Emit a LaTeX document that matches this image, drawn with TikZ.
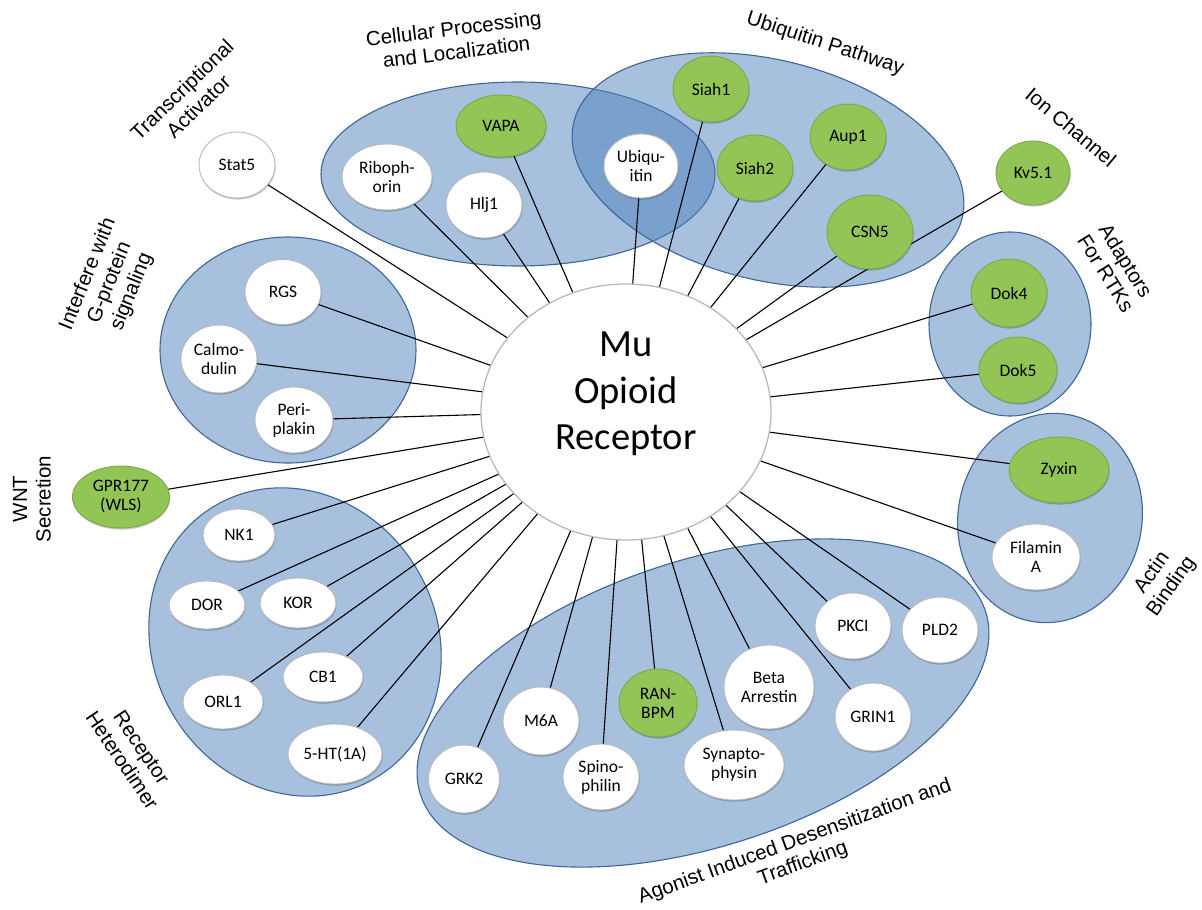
\documentclass[tikz,border=0pt]{standalone}
\usepackage{fontspec}
\setmainfont{Carlito}
\newfontfamily\labfont{Liberation Sans}
\usetikzlibrary{shapes.geometric,shadows}
\pgfdeclarelayer{cats}
\pgfdeclarelayer{links}
\pgfsetlayers{cats,links,main}
\definecolor{catfill}{RGB}{79,129,189}
\definecolor{catdraw}{RGB}{62,102,152}
\definecolor{pgreen}{RGB}{146,197,86}
\definecolor{pgreendraw}{RGB}{122,170,70}
\definecolor{pgray}{RGB}{185,185,185}
\tikzset{
  cat/.style={fill=catfill, fill opacity=0.5, draw=catdraw, draw opacity=1, line width=1.1},
  prot/.style={ellipse, draw=pgray, line width=0.9, fill=white, inner sep=0pt, outer sep=0pt,
    align=center, font=\fontsize{17.5}{19}\selectfont,
    drop shadow={shadow xshift=0.6pt, shadow yshift=-1.6pt, opacity=0.22, fill=black}},
  gprot/.style={prot, fill=pgreen, draw=pgreendraw},
  wh/.style 2 args={minimum width=#1, minimum height=#2},
  link/.style={line width=1.1, black},
  catlabel/.style={font=\labfont\fontsize{20.5}{23.5}\selectfont, align=center, inner sep=0pt},
}
\begin{document}
\begin{tikzpicture}[x=1pt,y=-1pt]
\useasboundingbox (0,0) rectangle (1202,910);

% category ellipses
\begin{pgfonlayer}{cats}
  \path[cat] (518,174) ellipse [x radius=197, y radius=92];
  \path[cat, rotate around={-14:(768,170)}] (768,170) ellipse [x radius=200, y radius=110];
  \path[cat] (288,350) ellipse [x radius=128, y radius=113];
  \path[cat, rotate around={30:(295,642)}] (295,642) ellipse [x radius=142, y radius=158];
  \path[cat, rotate around={18:(703,703)}] (703,703) ellipse [x radius=297, y radius=143];
  \path[cat] (1010,324) ellipse [x radius=81, y radius=92];
  \path[cat, rotate around={-10:(1050,518)}] (1050,518) ellipse [x radius=92, y radius=105];
\end{pgfonlayer}

% central receptor
\node[ellipse, draw=pgray, line width=1.3, fill=white, minimum width=290, minimum height=256,
  inner sep=0pt, outer sep=0pt,
  label={[yshift=18pt, align=center, font=\fontsize{38.5}{46.5}\selectfont]center:Mu\\Opioid\\Receptor}]
  (mu) at (626,412) {};

% proteins
\node[prot, wh={76}{66}] (stat5) at (237,165) {Stat5};
\node[prot, wh={90}{66}] (ribo) at (387,177) {Riboph-\\orin};
\node[prot, wh={76}{66}] (hlj1) at (484,205) {Hlj1};
\node[gprot, wh={90}{62}] (vapa) at (501,126) {VAPA};
\node[prot, wh={74}{64}] (ubiq) at (641,166) {Ubiqu-\\itin};
\node[gprot, wh={76}{66}] (siah1) at (711,89) {Siah1};
\node[gprot, wh={76}{66}] (siah2) at (755,168) {Siah2};
\node[gprot, wh={76}{66}] (aup1) at (848,137) {Aup1};
\node[gprot, wh={86}{74}] (csn5) at (870,232) {CSN5};
\node[gprot, wh={74}{64}] (kv51) at (1033,173) {Kv5.1};
\node[gprot, wh={76}{68}] (dok4) at (1009,293) {Dok4};
\node[gprot, wh={78}{66}] (dok5) at (1018,370) {Dok5};
\node[gprot, wh={100}{66}] (zyxin) at (1059,470) {Zyxin};
\node[prot, wh={88}{66}] (filamin) at (1036,557) {Filamin\\A};
\node[prot, wh={76}{66}] (pld2) at (940,630) {PLD2};
\node[prot, wh={76}{66}] (pkci) at (853,626) {PKCI};
\node[prot, wh={76}{68}] (grin1) at (873,717) {GRIN1};
\node[prot, wh={90}{84}] (beta) at (769,687) {Beta\\Arrestin};
\node[prot, wh={100}{70}] (synapto) at (734,765) {Synapto-\\physin};
\node[gprot, wh={78}{68}] (ranbpm) at (658,703) {RAN-\\BPM};
\node[prot, wh={76}{66}] (spino) at (601,777) {Spino-\\philin};
\node[prot, wh={76}{68}] (m6a) at (541,721) {M6A};
\node[prot, wh={71}{68}] (grk2) at (464,779) {GRK2};
\node[prot, wh={94}{60}] (ht1a) at (335,754) {5-HT(1A)};
\node[prot, wh={80}{54}] (orl1) at (223,702) {ORL1};
\node[prot, wh={80}{50}] (cb1) at (323,677) {CB1};
\node[prot, wh={76}{48}] (dor) at (207,605) {DOR};
\node[prot, wh={76}{50}] (kor) at (298,603) {KOR};
\node[prot, wh={72}{52}] (nk1) at (239,535) {NK1};
\node[gprot, wh={97}{62}] (gpr) at (121,497) {GPR177\\(WLS)};
\node[prot, wh={78}{66}] (peri) at (294,420) {Peri-\\plakin};
\node[prot, wh={76}{68}] (calmo) at (219,359) {Calmo-\\dulin};
\node[prot, wh={76}{65}] (rgs) at (283,292) {RGS};

% connectors
\begin{pgfonlayer}{links}
  \draw[link] (stat5) -- (mu.148);
  \draw[link] (ribo) -- (mu.136);
  \draw[link] (hlj1) -- (mu.125);
  \draw[link] (vapa) -- (mu.114);
  \draw[link] (ubiq) -- (mu.87);
  \draw[link] (siah1) -- (mu.75);
  \draw[link] (siah2) -- (mu.62);
  \draw[link] (aup1) -- (mu.51);
  \draw[link] (csn5) -- (mu.37);
  \draw[link] (kv51) -- (mu.31);
  \draw[link] (dok4) -- (mu.18);
  \draw[link] (dok5) -- (mu.6);
  \draw[link] (zyxin) -- (mu.-8);
  \draw[link] (filamin) -- (mu.-20);
  \draw[link] (pld2) -- (mu.-35);
  \draw[link] (pkci) -- (mu.-43);
  \draw[link] (grin1) -- (mu.-51);
  \draw[link] (beta) -- (mu.-62);
  \draw[link] (synapto) -- (mu.-73);
  \draw[link] (ranbpm) -- (mu.-83);
  \draw[link] (spino) -- (mu.-94);
  \draw[link] (m6a) -- (mu.-105);
  \draw[link] (grk2) -- (mu.-115);
  \draw[link] (ht1a) -- (mu.-131);
  \draw[link] (cb1) -- (mu.-139);
  \draw[link] (orl1) -- (mu.-144);
  \draw[link] (kor) -- (mu.-149);
  \draw[link] (dor) -- (mu.-154);
  \draw[link] (nk1) -- (mu.-162);
  \draw[link] (gpr) -- (mu.-170);
  \draw[link] (peri) -- (mu.-179);
  \draw[link] (calmo) -- (mu.172);
  \draw[link] (rgs) -- (mu.161);
\end{pgfonlayer}

% category labels
\node[catlabel, rotate=7] (lcell) at (455,40) {Cellular Processing\\and Localization};
\node[catlabel, rotate=-18] (lubiq) at (825,44) {Ubiquitin Pathway};
\node[catlabel, rotate=44] (ltrans) at (190,98) {Transcriptional\\Activator};
\node[catlabel, rotate=-40] (lion) at (1071,127) {Ion Channel};
\node[catlabel, rotate=-58] (ladapt) at (1116,267) {Adaptors\\For RTKs};
\node[catlabel, rotate=68] (linter) at (110,283) {Interfere with\\G-protein\\signaling};
\node[catlabel, rotate=90] (lwnt) at (32,499) {WNT\\Secretion};
\node[catlabel, rotate=-56] (lrec) at (132,754) {Receptor\\Heterodimer};
\node[catlabel, rotate=20] (lago) at (799,853) {Agonist Induced Desensitization and\\Trafficking};
\node[catlabel, rotate=55] (lactin) at (1162,580) {Actin\\Binding};
\end{tikzpicture}
\end{document}
